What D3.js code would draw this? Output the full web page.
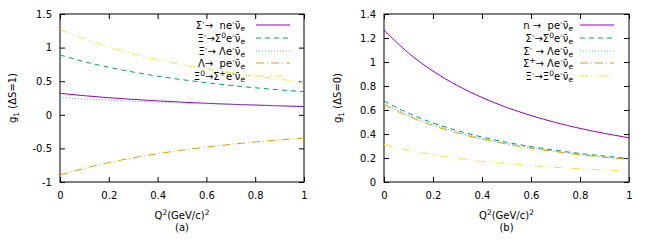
<!DOCTYPE html>
<html>
<head>
<meta charset="utf-8">
<script src="https://cdn.jsdelivr.net/npm/d3@7"></script>
<style>
  body { margin: 0; background: #fff; }
  svg { font-family: "DejaVu Sans", sans-serif; font-size: 10px; }
  text { white-space: pre; }
</style>
</head>
<body>
<div id="chart"></div>
<script>
const width = 650
const height = 250
const fontSize = 10

// Q^2 sample points (GeV/c)^2
const q2 = [0, 0.1, 0.2, 0.3, 0.4, 0.5, 0.6, 0.7, 0.8, 0.9, 1.0]
const xTicks = [0, 0.2, 0.4, 0.6, 0.8, 1]

// panel (a): strangeness-changing decays, g1 (dS=1)
const aSigmaN   = [0.32, 0.284, 0.254, 0.229, 0.207, 0.188, 0.171, 0.157, 0.145, 0.133, 0.123]
const aXiSigma0 = [0.89, 0.790, 0.707, 0.636, 0.575, 0.523, 0.477, 0.437, 0.402, 0.371, 0.343]
const aXiLambda = [0.255, 0.235, 0.217, 0.202, 0.188, 0.175, 0.164, 0.155, 0.146, 0.138, 0.131]
const aLambdaP  = [-0.896, -0.796, -0.711, -0.640, -0.579, -0.526, -0.480, -0.440, -0.405, -0.373, -0.346]
const aXi0Sigma = [1.27, 1.128, 1.008, 0.908, 0.821, 0.746, 0.681, 0.624, 0.574, 0.529, 0.490]
const aLabels = ['Σ^{-}→  ne^{-}ν̄_{e}', 'Ξ^{-}→Σ^{0}e^{-}ν̄_{e}', 'Ξ^{-}→ Λe^{-}ν̄_{e}',
                 'Λ→  pe^{-}ν̄_{e}', 'Ξ^{0}→Σ^{+}e^{-}ν̄_{e}']
const aYTicks = [-1, -0.5, 0, 0.5, 1, 1.5]

// panel (b): strangeness-conserving decays, g1 (dS=0)
const bNP        = [1.267, 1.075, 0.924, 0.803, 0.704, 0.622, 0.554, 0.496, 0.447, 0.405, 0.368]
const bSigSig0   = [0.675, 0.573, 0.492, 0.428, 0.375, 0.331, 0.295, 0.264, 0.238, 0.216, 0.196]
const bSigLambda = [0.655, 0.556, 0.478, 0.415, 0.364, 0.321, 0.286, 0.256, 0.231, 0.209, 0.190]
const bSigPLam   = [0.645, 0.547, 0.470, 0.409, 0.358, 0.317, 0.282, 0.253, 0.227, 0.206, 0.188]
const bXiXi0     = [0.312, 0.265, 0.228, 0.198, 0.173, 0.153, 0.136, 0.122, 0.110, 0.100, 0.091]
const bLabels = ['n →  pe^{-}ν̄_{e}', 'Σ^{-}→Σ^{0}e^{-}ν̄_{e}', 'Σ^{-} → Λe^{-}ν̄_{e}',
                 'Σ^{+}→ Λe^{-}ν̄_{e}', 'Ξ^{-}→Ξ^{0}e^{-}ν̄_{e}']
const bYTicks = [0, 0.2, 0.4, 0.6, 0.8, 1, 1.2, 1.4]

const colors = ['#9400d3', '#009e73', '#56b4e9', '#e69f00', '#f0e442']
const dashes = [null, '5,4', '1,2', '8,3,1,3', '8,3,1,3,1,3']

const svg = d3.select('#chart')
    .append('svg')
    .attr('width', width)
    .attr('height', height)

// turn "a^{b}c_{d}" into tspans
function richText (sel, str, size) {
    const parts = str.split(/(\^\{[^}]*\}|_\{[^}]*\})/).filter(s => s.length)
    let shift = 0
    parts.forEach(p => {
        let t, dy = 0, fs = size
        if (p.startsWith('^{')) { t = p.slice(2, -1); dy = -0.38 * size; fs = size * 0.75 }
        else if (p.startsWith('_{')) { t = p.slice(2, -1); dy = 0.28 * size; fs = size * 0.75 }
        else t = p
        sel.append('tspan')
            .attr('dy', dy - shift)
            .attr('font-size', fs)
            .text(t)
        shift = dy
    })
}

function panel (opt) {
    const x = d3.scaleLinear().domain([0, 1]).range([opt.left, opt.right])
    const y = d3.scaleLinear().domain(opt.yDomain).range([182, 14])

    const g = svg.append('g')

    const fmt = d => String(+d.toFixed(1))

    g.append('g')
        .attr('transform', `translate(${opt.left},0)`)
        .call(d3.axisLeft(y).tickValues(opt.yTicks).tickSize(-5).tickPadding(8).tickFormat(fmt))
    g.append('g')
        .attr('transform', `translate(${opt.right},0)`)
        .call(d3.axisRight(y).tickValues(opt.yTicks).tickSize(-5).tickFormat(''))
    g.append('g')
        .attr('transform', 'translate(0,182)')
        .call(d3.axisBottom(x).tickValues(xTicks).tickSize(-5).tickPadding(10).tickFormat(fmt))
    g.append('g')
        .attr('transform', 'translate(0,14)')
        .call(d3.axisTop(x).tickValues(xTicks).tickSize(-5).tickFormat(''))

    g.selectAll('.domain').remove()
    g.selectAll('.tick line').attr('stroke', '#000')
    g.selectAll('.tick text')
        .attr('font-size', fontSize)
        .attr('font-family', '"DejaVu Sans", sans-serif')
        .attr('fill', '#000')

    g.append('rect')
        .attr('x', opt.left)
        .attr('y', 14)
        .attr('width', opt.right - opt.left)
        .attr('height', 168)
        .attr('fill', 'none')
        .attr('stroke', '#000')

    const line = d3.line()
        .x((d, i) => x(q2[i]))
        .y(d => y(d))
        .curve(d3.curveMonotoneX)

    g.selectAll('path.curve')
        .data(opt.series)
        .enter()
        .append('path')
        .attr('class', 'curve')
        .attr('d', line)
        .attr('fill', 'none')
        .attr('stroke', (d, i) => colors[i])
        .attr('stroke-width', 1)
        .attr('stroke-dasharray', (d, i) => dashes[i])

    // legend
    const rowY = [25, 38, 51, 63, 76]
    opt.labels.forEach((lab, i) => {
        const t = g.append('text')
            .attr('x', opt.legText)
            .attr('y', rowY[i] + 3.5)
            .attr('text-anchor', 'end')
        richText(t, lab, fontSize)
        g.append('line')
            .attr('x1', opt.legLine[0])
            .attr('x2', opt.legLine[1])
            .attr('y1', rowY[i])
            .attr('y2', rowY[i])
            .attr('stroke', colors[i])
            .attr('stroke-width', 1.2)
            .attr('stroke-dasharray', dashes[i])
    })

    // axis titles
    const yl = g.append('text')
        .attr('transform', `translate(${opt.yLabelX},98) rotate(-90)`)
        .attr('text-anchor', 'middle')
    richText(yl, opt.yLabel, fontSize)

    const xl = g.append('text')
        .attr('x', (opt.left + opt.right) / 2)
        .attr('y', 219)
        .attr('text-anchor', 'middle')
    richText(xl, 'Q^{2}(GeV/c)^{2}', fontSize)

    g.append('text')
        .attr('x', (opt.left + opt.right) / 2)
        .attr('y', 231)
        .attr('text-anchor', 'middle')
        .text(opt.tag)
}

panel({
    left: 60, right: 304,
    yDomain: [-1, 1.5], yTicks: aYTicks,
    series: [aSigmaN, aXiSigma0, aXiLambda, aLambdaP, aXi0Sigma],
    labels: aLabels,
    legText: 245, legLine: [256, 290],
    yLabel: 'g_{1} (ΔS=1)', yLabelX: 16,
    tag: '(a)'
})

panel({
    left: 384, right: 629,
    yDomain: [0, 1.4], yTicks: bYTicks,
    series: [bNP, bSigSig0, bSigLambda, bSigPLam, bXiXi0],
    labels: bLabels,
    legText: 573, legLine: [580, 614],
    yLabel: 'g_{1} (ΔS=0)', yLabelX: 341,
    tag: '(b)'
})
</script>
</body>
</html>
